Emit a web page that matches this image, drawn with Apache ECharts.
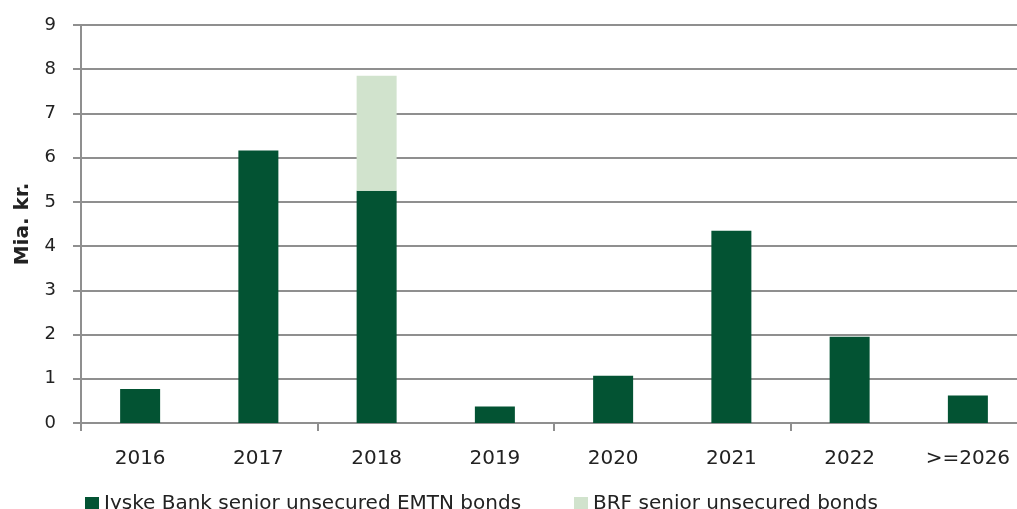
<!DOCTYPE html>
<html>
<head>
<meta charset="utf-8">
<script src="https://cdn.jsdelivr.net/npm/echarts@6/dist/echarts.min.js"></script>
<style>html,body{margin:0;padding:0;background:#fff;overflow:hidden}#c{width:1040px;height:509px}</style>
</head>
<body>
<div id="c"></div>
<script>
const categories = ['2016','2017','2018','2019','2020','2021','2022','>=2026'];
const jyske = [0.77, 6.16, 5.25, 0.375, 1.07, 4.35, 1.95, 0.62];
const brf = [0, 0, 2.60, 0, 0, 0, 0, 0];
const seriesNames = ['Jyske Bank senior unsecured EMTN bonds', 'BRF senior unsecured bonds'];
const yAxisName = 'Mia. kr.';

const FONT = 'DejaVu Sans';
const chart = echarts.init(document.getElementById('c'), null, {renderer: 'canvas'});
const gridColor = '#8f8f8f';
chart.setOption({
  animation: false,
  textStyle: {fontFamily: FONT},
  grid: {left: 81, top: 25, width: 946, height: 398, containLabel: false},
  legend: [
    {data: [seriesNames[0]], left: 80, top: 489, itemWidth: 14, itemHeight: 14, itemGap: 8,
     icon: 'rect', textStyle: {fontFamily: FONT, fontSize: 20, color: '#222'}},
    {data: [seriesNames[1]], left: 569, top: 489, itemWidth: 14, itemHeight: 14, itemGap: 8,
     icon: 'rect', textStyle: {fontFamily: FONT, fontSize: 20, color: '#222'}}
  ],
  xAxis: {type: 'category', data: categories, boundaryGap: true,
     axisLine: {show: true, lineStyle: {color: gridColor, width: 2}},
     axisTick: {show: true, interval: function (idx) { return idx % 2 === 0; }, length: 8, lineStyle: {color: gridColor, width: 2}},
     axisLabel: {show: true, interval: 0, margin: 26, fontSize: 20, color: '#222', fontFamily: FONT}},
  yAxis: {type: 'value', min: 0, max: 9, interval: 1,
     name: yAxisName, nameLocation: 'middle', nameGap: 48, nameRotate: 90,
     nameTextStyle: {fontSize: 20, fontWeight: 'bold', color: '#222', fontFamily: FONT},
     axisLine: {show: true, lineStyle: {color: gridColor, width: 2}},
     axisTick: {show: true, length: 8, lineStyle: {color: gridColor, width: 2}},
     axisLabel: {margin: 25, fontSize: 18, color: '#222', fontFamily: FONT},
     splitLine: {show: true, lineStyle: {color: gridColor, width: 2}}},
  series: [
    {name: seriesNames[0], type: 'bar', stack: 's', data: jyske, barWidth: 40, itemStyle: {color: '#035333'}},
    {name: seriesNames[1], type: 'bar', stack: 's', data: brf, barWidth: 40, itemStyle: {color: '#D1E3CD'}}
  ]
});
</script>
</body>
</html>
